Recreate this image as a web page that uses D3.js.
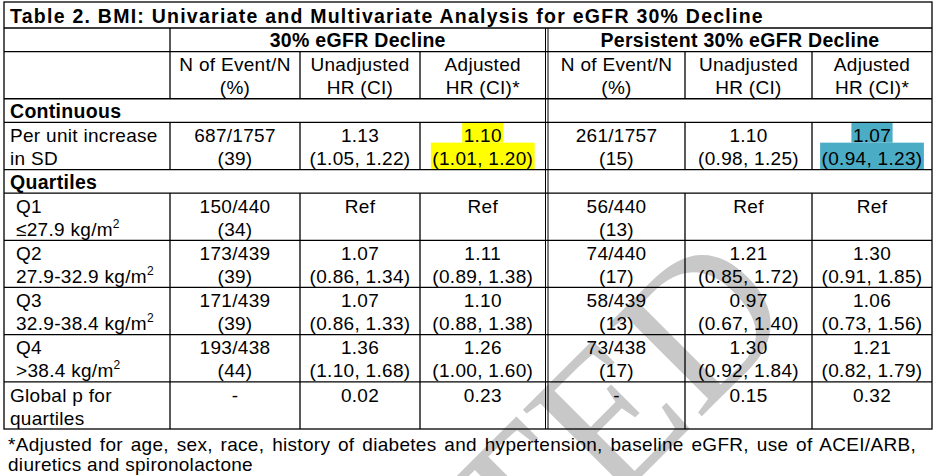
<!DOCTYPE html>
<html>
<head>
<meta charset="utf-8">
<script src="https://cdn.jsdelivr.net/npm/d3@7"></script>
<style>
  body { margin: 0; background: #fff; }
  text { font-family: Arial, "Liberation Sans", sans-serif; fill: #000; }
</style>
</head>
<body>
<svg id="table" width="949" height="476"></svg>
<script>
// DATA
const title = 'Table 2. BMI: Univariate and Multivariate Analysis for eGFR 30% Decline';
const groups = ['30% eGFR Decline', 'Persistent 30% eGFR Decline'];
const colHeaders = [
  ['N of Event/N', '(%)'],
  ['Unadjusted', 'HR (CI)'],
  ['Adjusted', 'HR (CI)*'],
];
const sections = ['Continuous', 'Quartiles'];
const rowLabels = [
  ['Per unit increase', 'in SD'],
  ['Q1', '≤27.9 kg/m^2'],
  ['Q2', '27.9-32.9 kg/m^2'],
  ['Q3', '32.9-38.4 kg/m^2'],
  ['Q4', '>38.4 kg/m^2'],
  ['Global p for', 'quartiles'],
];
const declineEvents = ['687/1757', '150/440', '173/439', '171/439', '193/438', '-'];
const declinePct = ['(39)', '(34)', '(39)', '(39)', '(44)', ''];
const declineUnadj = ['1.13', 'Ref', '1.07', '1.07', '1.36', '0.02'];
const declineUnadjCI = ['(1.05, 1.22)', '', '(0.86, 1.34)', '(0.86, 1.33)', '(1.10, 1.68)', ''];
const declineAdj = ['1.10', 'Ref', '1.11', '1.10', '1.26', '0.23'];
const declineAdjCI = ['(1.01, 1.20)', '', '(0.89, 1.38)', '(0.88, 1.38)', '(1.00, 1.60)', ''];
const persistEvents = ['261/1757', '56/440', '74/440', '58/439', '73/438', '-'];
const persistPct = ['(15)', '(13)', '(17)', '(13)', '(17)', ''];
const persistUnadj = ['1.10', 'Ref', '1.21', '0.97', '1.30', '0.15'];
const persistUnadjCI = ['(0.98, 1.25)', '', '(0.85, 1.72)', '(0.67, 1.40)', '(0.92, 1.84)', ''];
const persistAdj = ['1.07', 'Ref', '1.30', '1.06', '1.21', '0.32'];
const persistAdjCI = ['(0.94, 1.23)', '', '(0.91, 1.85)', '(0.73, 1.56)', '(0.82, 1.79)', ''];
const footnote = [
  '*Adjusted for age, sex, race, history of diabetes and hypertension, baseline eGFR, use of ACEI/ARB,',
  'diuretics and spironolactone',
];
const watermark = 'ACCEPTED';

// highlighted cells: [data row, column, colour]
const highlights = [
  [0, 3, '#ffff00'],
  [0, 6, '#4bacc6'],
];

//SETUP
const svg = d3.select('#table');
const fontSize = 19;
const boldSize = 19.5;
const spacing = 0.3;

// column edges (left, right); 4 | 5 is the double rule
const colLeft = [4, 170, 300, 420, 548, 685, 812];
const colRight = [170, 300, 420, 545.5, 685, 812, 932];
const tableTop = 2;
const titleBottom = 28;

// vertical position in line units below the title row
const yScale = d3.scaleLinear().domain([0, 17]).range([titleBottom, 429]);

// body rows, in units: [start, end]
const bodyRows = [[4, 6], [7, 9], [9, 11], [11, 13], [13, 15], [15, 17]];
const sectionRows = [[3, 4], [6, 7]];

// table columns built from the series
const columns = [
  [declineEvents, declinePct],
  [declineUnadj, declineUnadjCI],
  [declineAdj, declineAdjCI],
  [persistEvents, persistPct],
  [persistUnadj, persistUnadjCI],
  [persistAdj, persistAdjCI],
];

//WATERMARK
svg
  .append('text')
  .attr('transform', 'translate(800,318) rotate(-45)')
  .attr('text-anchor', 'end')
  .style('font-family', '"Liberation Serif", "Times New Roman", serif')
  .style('font-size', '200px')
  .style('fill', '#c8c8c8')
  .text(watermark);

const hlLayer = svg.append('g');
const textLayer = svg.append('g');
const lineLayer = svg.append('g').attr('stroke', '#000').attr('stroke-width', 1.3);

function addLine(parent, str, x, y, anchor, bold) {
  const t = parent
    .append('text')
    .attr('x', x)
    .attr('y', y)
    .attr('text-anchor', anchor)
    .style('font-size', (bold ? boldSize : fontSize) + 'px')
    .style('font-weight', bold ? 'bold' : 'normal')
    .style('letter-spacing', spacing + 'px');
  str.split('^').forEach((part, i) => {
    const span = t.append('tspan').text(part);
    if (i > 0) span.attr('dy', -8).style('font-size', '12px');
  });
  return t;
}

function cellLines(lines, col, top, anchor, indent) {
  const x =
    anchor === 'middle'
      ? (colLeft[col] + colRight[col]) / 2
      : colLeft[col] + indent;
  return lines.map((s, i) =>
    s ? addLine(textLayer, s, x, top + 19.7 + i * 23, anchor, false) : null
  );
}

function fitWidth(node, target) {
  const w = node.node().getComputedTextLength();
  const n = node.text().length - 1;
  node.style('letter-spacing', spacing + (target - w) / n + 'px');
}

//TITLE
const titleText = addLine(textLayer, title, 10, 22.5, 'start', true);
fitWidth(titleText, 753);

//GROUP HEADERS
groups.forEach((g, i) => {
  const x = i === 0 ? (colLeft[1] + colRight[3]) / 2 : (colLeft[4] + colRight[6]) / 2;
  addLine(textLayer, g, x, yScale(0) + 19, 'middle', true);
});

//SUB HEADERS
d3.range(6).forEach((c) => cellLines(colHeaders[c % 3], c + 1, yScale(1), 'middle'));

//SECTIONS
sections.forEach((s, i) => addLine(textLayer, s, 10, yScale(sectionRows[i][0]) + 19, 'start', true));

//BODY
const cellNodes = bodyRows.map((r, i) => {
  const top = yScale(r[0]);
  const label = rowLabels[i];
  const indent = i >= 1 && i <= 4 ? 12 : 6;
  cellLines(label, 0, top, 'start', indent);
  return columns.map((col, c) => cellLines([col[0][i], col[1][i]], c + 1, top, 'middle'));
});

//HIGHLIGHTS
highlights.forEach(([row, col, color]) => {
  const top = yScale(bodyRows[row][0]);
  const bottom = yScale(bodyRows[row][1]);
  const split = top + 20.3;
  cellNodes[row][col - 1].forEach((node, i) => {
    const b = node.node().getBBox();
    hlLayer
      .append('rect')
      .attr('x', b.x - 1.5)
      .attr('width', b.width + 3)
      .attr('y', i === 0 ? top : split)
      .attr('height', i === 0 ? split - top : bottom - split)
      .attr('fill', color);
  });
});

//GRID
lineLayer
  .append('rect')
  .attr('x', colLeft[0])
  .attr('y', tableTop)
  .attr('width', colRight[6] - colLeft[0])
  .attr('height', yScale(17) - tableTop)
  .attr('fill', 'none');

[0, 1, 3, 4, 6, 7, 9, 11, 13, 15].forEach((u) => {
  lineLayer
    .append('line')
    .attr('x1', colLeft[0])
    .attr('x2', colRight[6])
    .attr('y1', yScale(u))
    .attr('y2', yScale(u));
});

// double rule between the two analyses
[colRight[3], colLeft[4]].forEach((x) => {
  lineLayer
    .append('line')
    .attr('x1', x)
    .attr('x2', x)
    .attr('y1', yScale(0))
    .attr('y2', yScale(17))
    .attr('stroke-width', 1);
});

// inner column rules, broken at the section rows
const spans = [[1, 3], [4, 6], [7, 17]];
[1, 2, 3, 5, 6].forEach((c) => {
  spans.forEach(([a, b]) => {
    lineLayer
      .append('line')
      .attr('x1', colLeft[c])
      .attr('x2', colLeft[c])
      .attr('y1', yScale(a))
      .attr('y2', yScale(b));
  });
});
lineLayer
  .append('line')
  .attr('x1', colLeft[1])
  .attr('x2', colLeft[1])
  .attr('y1', yScale(0))
  .attr('y2', yScale(1));

//FOOTNOTE
const foot1 = addLine(textLayer, footnote[0], 8, 451, 'start', false);
const natural = foot1.node().getComputedTextLength();
const spaces = footnote[0].split(' ').length - 1;
foot1.style('word-spacing', (916 - 8 - natural) / spaces + 'px');
addLine(textLayer, footnote[1], 8, 471, 'start', false);
</script>
</body>
</html>
